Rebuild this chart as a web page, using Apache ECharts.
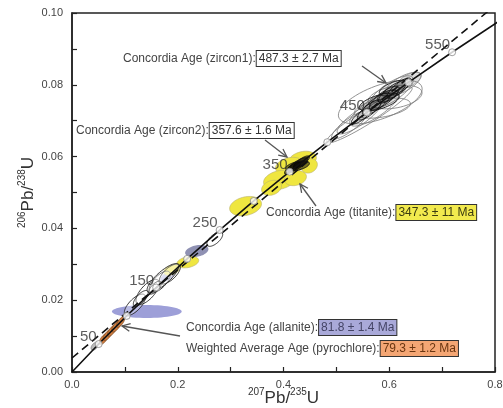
<!DOCTYPE html>
<html><head><meta charset="utf-8">
<script src="https://cdn.jsdelivr.net/npm/echarts@6/dist/echarts.min.js"></script>
<style>html,body{margin:0;padding:0;background:#fff}#c{width:503px;height:408px}</style>
</head><body><div id="c"></div>
<script>
// Concordia curve (ages in Ma with 207Pb/235U and 206Pb/238U ratios)
const concAges = [0,50,100,150,200,250,300,350,400,450,500,550,600,650];
const concX = [0,0.05047,0.10350,0.15920,0.21771,0.27917,0.34374,0.41156,0.48281,0.55766,0.63628,0.71887,0.80563,0.89677];
const concY = [0,0.007786,0.015633,0.023542,0.031511,0.039543,0.047637,0.055795,0.064015,0.072300,0.080650,0.089064,0.097544,0.10609];
const labelAges = [50,150,250,350,450,550];
// dashed reference line
const dashX = [0, 0.8];
const dashY = [0.0039, 0.1021];
// ellipses: [x, y, halfX, halfY, rho]
const zircon1Gray = [
 [0.5623,0.0716,0.0811,0.0078,0.95],[0.583,0.0752,0.0792,0.0061,0.6],[0.611,0.0766,0.051,0.0033,0.35],
 [0.587,0.0735,0.053,0.0028,0.45],[0.604,0.0780,0.0415,0.0045,0.75],[0.626,0.0802,0.034,0.0033,0.7],
 [0.572,0.0735,0.047,0.0050,0.8],[0.543,0.0708,0.0415,0.0045,0.85],[0.525,0.0688,0.034,0.0039,0.85]
];
const zircon1Light = [[0.638,0.0813,0.0226,0.0022,0.6]];
const zircon1Dark = [
 [0.5906,0.0763,0.0283,0.0033,0.8],[0.6057,0.0780,0.0264,0.0031,0.8],[0.6189,0.0791,0.0226,0.0028,0.8],
 [0.5755,0.0747,0.0264,0.0031,0.8],[0.5623,0.0730,0.0226,0.0028,0.8],[0.5962,0.0769,0.0189,0.0017,0.6],
 [0.5811,0.0752,0.0377,0.0025,0.6],[0.6094,0.0791,0.0283,0.0022,0.6],[0.5472,0.0713,0.0189,0.0022,0.8]
];
const zircon2 = [
 [0.4264,0.0577,0.0189,0.0020,0.8],[0.434,0.0585,0.0151,0.0017,0.8],[0.417,0.0568,0.0151,0.0017,0.8],[0.4264,0.0574,0.0226,0.0014,0.5]
];
const zirconLow = [
 [0.119,0.0187,0.020,0.0030,0.7],[0.143,0.0223,0.022,0.0035,0.68],[0.166,0.0251,0.020,0.0030,0.68],
 [0.185,0.0273,0.020,0.0028,0.68],[0.157,0.0235,0.012,0.0018,0.68],[0.130,0.0205,0.014,0.0022,0.7],
 [0.270,0.0370,0.015,0.0020,0.65],[0.172,0.0262,0.030,0.0040,0.82]
];
const zirconSmall = [[0.043,0.0072,0.007,0.0011,0.5]];
const titanite = [
 [0.3283,0.0462,0.0302,0.0027,0.25],[0.4358,0.0591,0.0264,0.0024,0.25],[0.4113,0.0574,0.0264,0.0024,0.25],
 [0.3925,0.0535,0.0302,0.0027,0.25],[0.4226,0.0540,0.0208,0.0021,0.2],[0.3774,0.0513,0.0189,0.0021,0.25],
 [0.449,0.0574,0.0151,0.0020,0.2],[0.2189,0.0306,0.0208,0.0016,0.3],[0.1887,0.0284,0.0151,0.0015,0.4]
];
const allanite = [[0.1415,0.01685,0.066,0.0018,0.0],[0.181,0.0267,0.014,0.0015,0.6]];
const allaniteGray = [[0.236,0.0337,0.022,0.0017,0.3]];
const pyrochlore = [
 [0.060,0.0092,0.009,0.0016,0.7],[0.068,0.01038,0.009,0.0016,0.7],[0.076,0.01157,0.009,0.0016,0.7],
 [0.084,0.01275,0.009,0.0016,0.7],[0.092,0.01394,0.008,0.0015,0.7]
];

const FONT = '"Liberation Sans", Arial, sans-serif';

function ellipseSeries(data, fill, stroke, lw, z) {
  return {
    type: 'custom', data: data, z: z, clip: true, silent: true,
    encode: { x: 0, y: 1 },
    renderItem: function (params, api) {
      const cx = api.value(0), cy = api.value(1), sx = api.value(2), sy = api.value(3), r = api.value(4);
      const q = Math.sqrt(1 - r * r);
      const pts = [];
      for (let i = 0; i < 60; i++) {
        const t = i / 60 * Math.PI * 2;
        pts.push(api.coord([cx + sx * Math.cos(t), cy + sy * (r * Math.cos(t) + q * Math.sin(t))]));
      }
      return { type: 'polygon', shape: { points: pts }, style: { fill: fill, stroke: stroke, lineWidth: lw } };
    }
  };
}

const concData = concX.map((x, i) => [x, concY[i]]);
const markerData = [];
concAges.forEach((a, i) => { if (a >= 50 && a <= 550) markerData.push({ value: [concX[i], concY[i]], age: a }); });

function arrow(x1, y1, x2, y2) {
  const ang = Math.atan2(y2 - y1, x2 - x1), L = 9, w = 0.45;
  return [
    { type: 'line', shape: { x1: x1, y1: y1, x2: x2, y2: y2 }, style: { stroke: '#555', lineWidth: 1.3 }, z: 50 },
    { type: 'polyline', shape: { points: [
      [x2 - L * Math.cos(ang - w), y2 - L * Math.sin(ang - w)], [x2, y2],
      [x2 - L * Math.cos(ang + w), y2 - L * Math.sin(ang + w)]] }, style: { stroke: '#555', lineWidth: 1.3, fill: null }, z: 50 }
  ];
}
function note(x, y, label, box, bg, col) {
  return { type: 'text', left: x, top: y - 8, z: 60, style: {
    text: '{t|' + label + '}{b|' + box + '}', font: '12px ' + FONT,
    rich: {
      t: { fontSize: 12, fontFamily: FONT, fill: '#444', padding: [0, 1, 0, 0] },
      b: { fontSize: 12, fontFamily: FONT, fill: col, backgroundColor: bg, borderColor: '#333', borderWidth: 1, padding: [2, 2, 1, 2] }
    } } };
}

const nameRich = {
  n: { fontSize: 17, fontFamily: FONT, color: '#333', verticalAlign: 'bottom', lineHeight: 20 },
  s: { fontSize: 10, fontFamily: FONT, color: '#333', verticalAlign: 'top', lineHeight: 20 }
};

const chart = echarts.init(document.getElementById('c'));
chart.setOption({
  animation: false,
  backgroundColor: '#fff',
  grid: { left: 72, right: 8, top: 13, bottom: 36, show: true, borderColor: '#222', borderWidth: 1.5,
    containLabel: false, outerBoundsMode: 'none' },
  xAxis: {
    type: 'value', min: 0, max: 0.8, interval: 0.1,
    axisLine: { lineStyle: { color: '#222', width: 1.5 } },
    axisTick: { inside: true, length: 5, lineStyle: { color: '#222', width: 1.2 } },
    splitLine: { show: false },
    axisLabel: { color: '#444', fontSize: 11, fontFamily: FONT, margin: 7,
      formatter: v => { const k = Math.round(v * 10); return k % 2 === 0 ? (k / 10).toFixed(1) : ''; } },
    name: '{s|207}{n|Pb/}{s|235}{n|U}', nameLocation: 'middle', nameGap: 15, nameMoveOverlap: false,
    nameTextStyle: { rich: nameRich }
  },
  yAxis: {
    type: 'value', min: 0, max: 0.1, interval: 0.01,
    axisLine: { lineStyle: { color: '#222', width: 1.5 } },
    axisTick: { inside: true, length: 5, lineStyle: { color: '#222', width: 1.2 } },
    splitLine: { show: false },
    axisLabel: { color: '#444', fontSize: 11, fontFamily: FONT, margin: 9,
      formatter: v => { const k = Math.round(v * 100); return k % 2 === 0 ? (k / 100).toFixed(2) : ''; } },
    name: '{s|206}{n|Pb/}{s|238}{n|U}', nameLocation: 'middle', nameGap: 35, nameMoveOverlap: false,
    nameTextStyle: { rich: nameRich }
  },
  series: [
    ellipseSeries(allanite, '#9d9fd8', 'rgba(0,0,0,0)', 0, 2),
    ellipseSeries(allaniteGray, '#8f91b3', 'rgba(0,0,0,0)', 0, 2),
    ellipseSeries(titanite, '#efe640', '#b8b070', 0.6, 3),
    ellipseSeries(pyrochlore, '#d27f42', '#6a3a15', 0.6, 3),
    ellipseSeries(zircon1Light, '#ddd', '#999', 0.8, 4),
    ellipseSeries(zircon1Gray, 'rgba(255,255,255,0)', '#777', 0.8, 4),
    ellipseSeries(zircon1Dark, 'rgba(0,0,0,0.12)', '#111', 0.9, 5),
    ellipseSeries(zircon2, 'rgba(0,0,0,0.5)', '#111', 0.9, 5),
    ellipseSeries(zirconLow, 'rgba(255,255,255,0.3)', '#222', 0.9, 4),
    ellipseSeries(zirconSmall, '#bbb', '#777', 0.7, 4),
    { type: 'line', data: concData, showSymbol: false, z: 10, silent: true,
      lineStyle: { color: '#111', width: 1.6 } },
    { type: 'line', data: dashX.map((x, i) => [x, dashY[i]]), showSymbol: false, z: 10, silent: true,
      lineStyle: { color: '#111', width: 1.6, type: [8, 5] } },
    { type: 'scatter', data: markerData, symbol: 'circle', symbolSize: 7, z: 12, silent: true,
      itemStyle: { color: '#fff', borderColor: '#888', borderWidth: 1 },
      label: { show: true, position: 'left', distance: 0, offset: [2, -7], color: '#333', fontSize: 15, fontFamily: FONT,
        formatter: p => labelAges.indexOf(p.data.age) >= 0 ? String(p.data.age) : '' } }
  ],
  graphic: [].concat(
    arrow(362, 66, 386, 83),
    arrow(265, 140, 287, 157),
    arrow(316, 206, 300, 184),
    arrow(180, 336, 122, 326),
    [
      note(123, 58, 'Concordia Age (zircon1):', '487.3 ± 2.7 Ma', '#fff', '#333'),
      note(76, 130, 'Concordia Age (zircon2):', '357.6 ± 1.6 Ma', '#fff', '#333'),
      note(266, 212, 'Concordia Age (titanite):', '347.3 ± 11 Ma', '#f2ea4e', '#3a3a10'),
      note(186, 327, 'Concordia Age (allanite):', '81.8 ± 1.4 Ma', '#a9a9d9', '#444466'),
      note(186, 348, 'Weighted Average Age (pyrochlore):', '79.3 ± 1.2 Ma', '#f4a674', '#6a3510')
    ]
  )
});
</script></body></html>
